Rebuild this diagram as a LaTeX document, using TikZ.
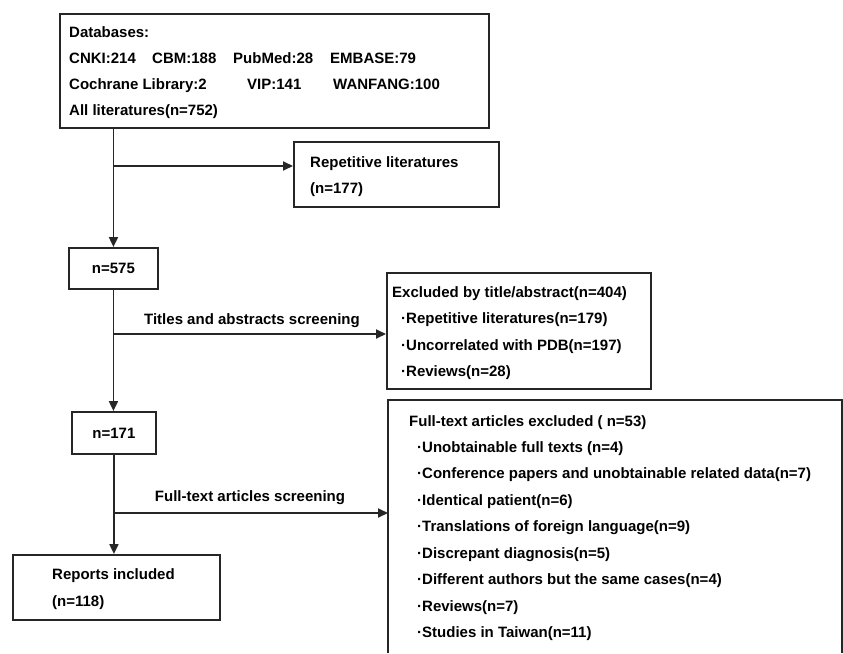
\documentclass[tikz,border=0pt]{standalone}
\usepackage{fontspec}
\setmainfont{Liberation Sans}
\usetikzlibrary{arrows.meta}
\begin{document}
\begin{tikzpicture}[x=1pt,y=-1pt,
  box/.style={draw=black!85, line width=1.9pt, anchor=north west, inner sep=0pt},
  txt/.style={font=\fontsize{15}{18}\selectfont\bfseries, inner sep=0pt, text height=10.8pt, text depth=0pt, anchor=west},
  ctxt/.style={font=\fontsize{15}{18}\selectfont\bfseries, inner sep=0pt, text height=10.8pt, text depth=0pt, anchor=center},
  conn/.style={draw=black!85, line width=1.9pt},
  arr/.style={conn, -{Triangle[length=10pt,width=9pt]}}]
\useasboundingbox (0,0) rectangle (843,653);
\fill[white] (0,0) rectangle (843,653);
% boxes
\node[box, minimum width=429pt, minimum height=114pt] (db) at (59,13) {};
\node[box, minimum width=205pt, minimum height=65pt] (rep) at (293,141) {};
\node[box, minimum width=89pt, minimum height=41pt] (n575) at (68,247) {};
\node[box, minimum width=264pt, minimum height=116pt] (exc) at (386,272) {};
\node[box, minimum width=84pt, minimum height=42pt] (n171) at (71,411) {};
\node[box, minimum width=207pt, minimum height=65pt] (rpt) at (12,554) {};
\node[anchor=north west, inner sep=0pt, minimum width=454pt, minimum height=253pt] (fte) at (388,400) {};
\draw[conn] (fte.south west) -- (fte.north west) -- (fte.north east) -- (fte.south east);
% texts top box
\node[txt] (t1) at (69,32) {Databases:};
\node[txt] (t2a) at (69,58) {CNKI:214};
\node[txt] (t2b) at (152,58) {CBM:188};
\node[txt] (t2c) at (233,58) {PubMed:28};
\node[txt] (t2d) at (330,58) {EMBASE:79};
\node[txt] (t3a) at (69,84) {Cochrane Library:2};
\node[txt] (t3b) at (247,84) {VIP:141};
\node[txt] (t3c) at (333,84) {WANFANG:100};
\node[txt] (t4) at (69,110) {All literatures(n=752)};
% repetitive
\node[txt] (r1) at (310,162) {Repetitive literatures};
\node[txt] (r2) at (310,188) {(n=177)};
% n=575
\node[ctxt] (c575) at (n575.center) {n=575};
% excluded
\node[txt] (e0) at (392,292) {Excluded by title/abstract(n=404)};
\node[txt] (e1) at (401,318) {·Repetitive literatures(n=179)};
\node[txt] (e2) at (401,345) {·Uncorrelated with PDB(n=197)};
\node[txt] (e3) at (401,371) {·Reviews(n=28)};
% n=171
\node[ctxt] (c171) at (n171.center) {n=171};
% reports
\node[txt] (p1) at (52,574) {Reports included};
\node[txt] (p2) at (52,601) {(n=118)};
% full text excluded
\node[txt] (f0) at (409,421) {Full-text articles excluded ( n=53)};
\node[txt] (f1) at (417,447) {·Unobtainable full texts (n=4)};
\node[txt] (f2) at (417,473.5) {·Conference papers and unobtainable related data(n=7)};
\node[txt] (f3) at (417,500) {·Identical patient(n=6)};
\node[txt] (f4) at (417,526.5) {·Translations of foreign language(n=9)};
\node[txt] (f5) at (417,553) {·Discrepant diagnosis(n=5)};
\node[txt] (f6) at (417,579.5) {·Different authors but the same cases(n=4)};
\node[txt] (f7) at (417,606) {·Reviews(n=7)};
\node[txt] (f8) at (417,632) {·Studies in Taiwan(n=11)};
% labels
\node[ctxt] (l1) at (252,319) {Titles and abstracts screening};
\node[ctxt] (l2) at (250,496) {Full-text articles screening};
% connectors
\coordinate (b1) at (113,166);
\coordinate (b2) at (113,334);
\coordinate (b3) at (113,513);
\draw[arr] (db.south -| n575.north) -- (n575.north);
\draw[arr] (b1) -- (b1 -| rep.west);
\draw[arr] (n575.south) -- (n575.south |- n171.north);
\draw[arr] (b2) -- (b2 -| exc.west);
\draw[arr] (n171.south) -- (n171.south |- rpt.north);
\draw[arr] (b3) -- (b3 -| fte.west);
\end{tikzpicture}
\end{document}
